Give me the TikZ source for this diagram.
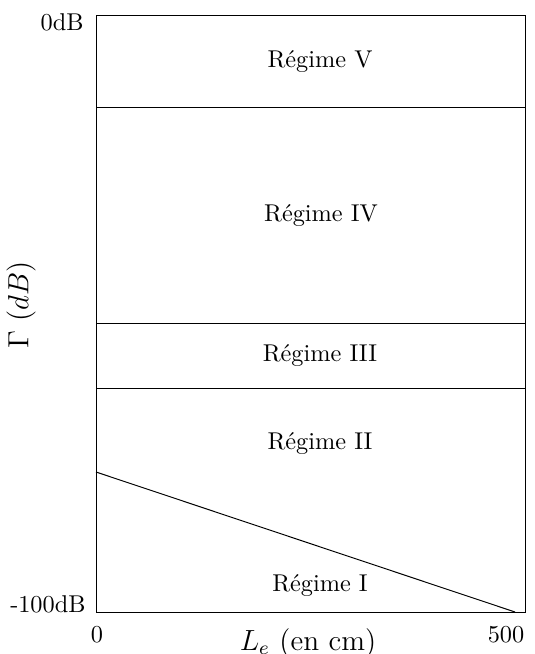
\documentclass[tikz,border=0pt]{standalone}
\begin{document}
\begin{tikzpicture}[x=0.4115pt,y=-0.4115pt,
  lbl/.style={inner sep=0pt, font=\normalsize},
  frame/.style={draw=black, line width=0.4pt}]
\useasboundingbox (0,0) rectangle (534,654);
\coordinate (bl) at (96,612);
\coordinate (tr) at (525,15);
\draw[frame] (bl) rectangle (tr);
\coordinate (a1) at (96,107); \coordinate (a2) at (525,107);
\coordinate (b1) at (96,323); \coordinate (b2) at (525,323);
\coordinate (c1) at (96,388); \coordinate (c2) at (525,388);
\draw[frame] (a1) -- (a2);
\draw[frame] (b1) -- (b2);
\draw[frame] (c1) -- (c2);
\coordinate (d1) at (96,472); \coordinate (d2) at (515,612);
\draw[frame] (d1) -- (d2);
\node[lbl] (r5) at (320,62) {Régime V};
\node[lbl] (r4) at (321,216) {Régime IV};
\node[lbl] (r3) at (320,356) {Régime III};
\node[lbl] (r2) at (320,444) {Régime II};
\node[lbl] (r1) at (320,586) {Régime I};
\node[lbl, anchor=east] (y0) at (84,22) {0dB};
\node[lbl, anchor=east] (y1) at (86,604) {-100dB};
\node[lbl] (x0) at (97,635) {0};
\node[lbl] (x1) at (506,635) {500};
\node[lbl, font=\large] (xl) at (308,643) {$L_e$ (en cm)};
\node[lbl, font=\large, rotate=90] (yl) at (21,305) {$\Gamma$ $(dB)$};
\end{tikzpicture}
\end{document}
